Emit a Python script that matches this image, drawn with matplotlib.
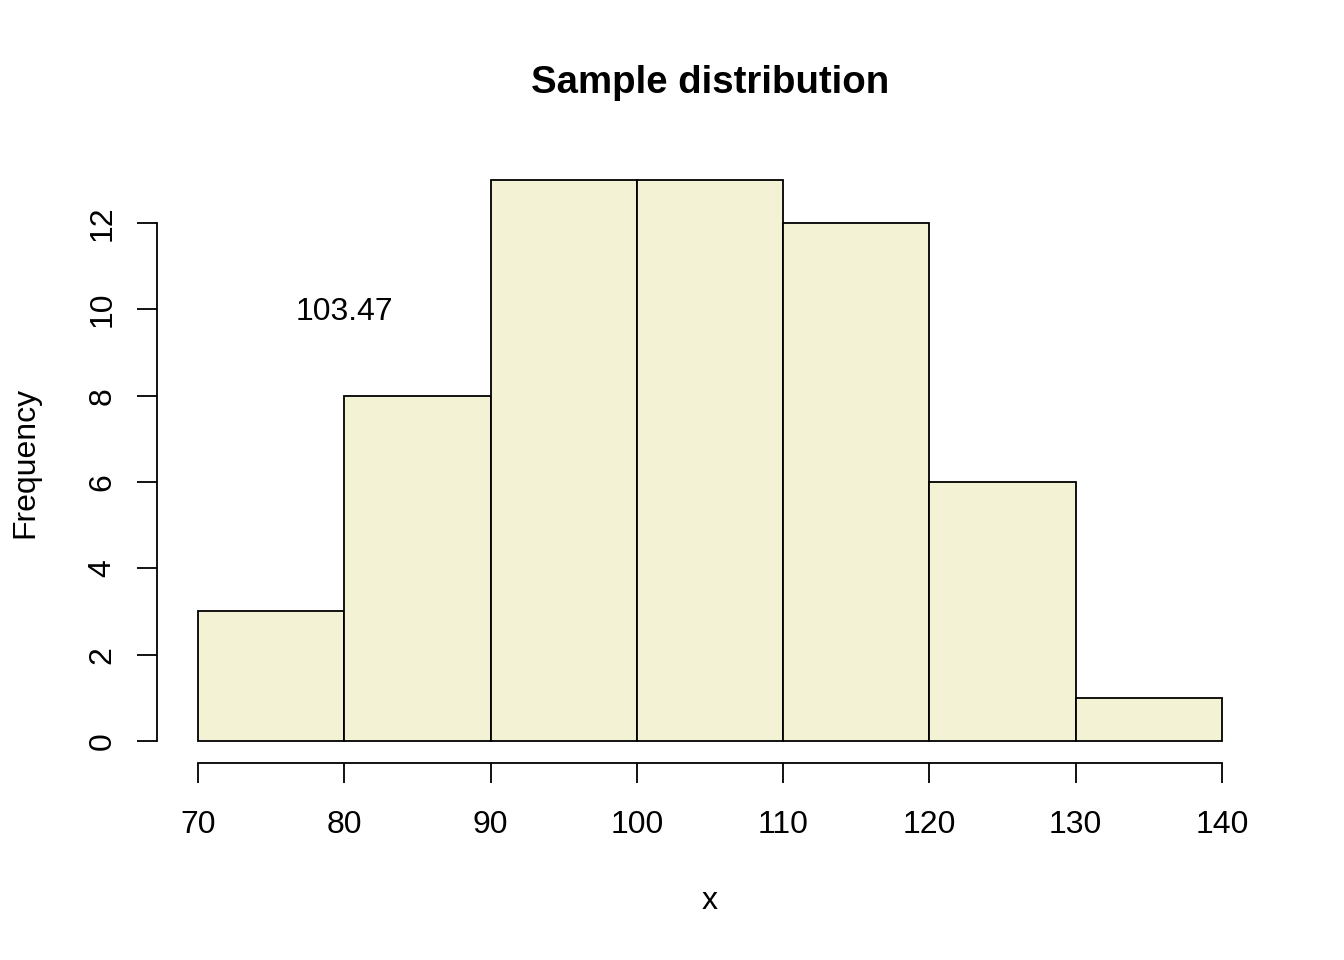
import numpy as np
import matplotlib
matplotlib.use("Agg")
import matplotlib.pyplot as plt
from matplotlib.transforms import offset_copy

plt.rcParams['font.family'] = ['Liberation Sans', 'DejaVu Sans']

# histogram data
bin_edges = [70, 80, 90, 100, 110, 120, 130, 140]
counts = [3, 8, 13, 13, 12, 6, 1]
x_ticks = [70, 80, 90, 100, 110, 120, 130, 140]
y_ticks = [0, 2, 4, 6, 8, 10, 12]
mean_label = "103.47"
label_pos = (80, 10)

fs = 23
fig = plt.figure(figsize=(13.44, 9.6), dpi=100)
ax = fig.add_axes([0.1168, 0.2048, 0.9397 - 0.1168, 0.836 - 0.2048])

widths = np.diff(bin_edges)
ax.bar(bin_edges[:-1], counts, width=widths, align="edge",
       color="#F3F2D5", edgecolor="black", linewidth=1.3)

ax.set_xlim(67.2, 142.8)
ax.set_ylim(-0.52, 13.52)

for s in ["top", "right"]:
    ax.spines[s].set_visible(False)
ax.spines["left"].set_bounds(0, 12)
ax.spines["bottom"].set_bounds(70, 140)
ax.spines["left"].set_linewidth(1.3)
ax.spines["bottom"].set_linewidth(1.3)

ax.set_xticks(x_ticks)
ax.set_yticks(y_ticks)
ax.tick_params(axis="both", direction="out", length=14.4, width=1.3, labelsize=fs)
ax.tick_params(axis="x", pad=19.5)
ax.tick_params(axis="y", pad=14)
for lab in ax.get_yticklabels():
    lab.set_rotation(90)
    lab.set_va("center")

# small downward nudge so the text sits like R's centred text
txt_tr = offset_copy(ax.transData, fig=fig, x=0, y=-2.2, units="points")
ax.text(label_pos[0], label_pos[1], mean_label, ha="center", va="center",
        fontsize=fs, transform=txt_tr)

fig.text(710 / 1344, 1 - 901 / 960, "x", ha="center", va="center", fontsize=fs)
fig.text(25 / 1344, 1 - 462 / 960, "Frequency", ha="center", va="center",
         rotation=90, fontsize=fs)
fig.text(710 / 1344, 1 - 83 / 960, "Sample distribution", ha="center", va="center",
         fontsize=27.6, fontweight="bold")

fig.savefig("out.png", dpi=100)
